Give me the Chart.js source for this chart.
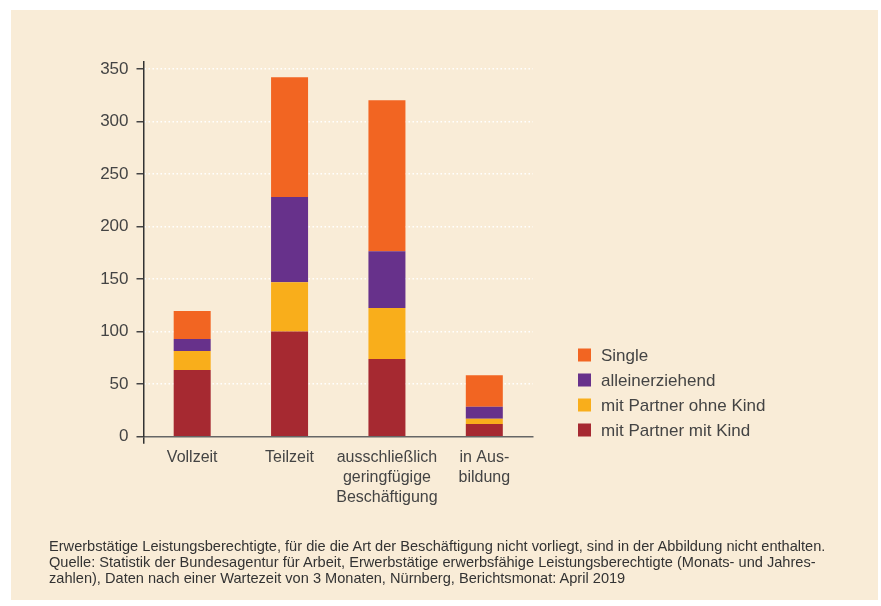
<!DOCTYPE html>
<html lang="de">
<head>
<meta charset="utf-8">
<script src="https://cdn.jsdelivr.net/npm/chart.js@4/dist/chart.umd.min.js"></script>
<style>
  html, body { margin: 0; padding: 0; background: #fff; }
  #panel {
    position: absolute; left: 11px; top: 10px; width: 867px; height: 590px;
    background: #F9ECD7;
  }
  #chart { position: absolute; left: 0; top: 0; }
  #note {
    position: absolute; left: 49px; top: 538px;
    font: 14.6px "Liberation Sans", Arial, sans-serif;
    line-height: 16px; letter-spacing: 0;
    color: #333; white-space: nowrap;
  }
</style>
</head>
<body>
<div id="panel"></div>
<canvas id="chart" width="881" height="606"></canvas>
<div id="note">
  Erwerbstätige Leistungsberechtigte, für die die Art der Beschäftigung nicht vorliegt, sind in der Abbildung nicht enthalten.<br>
  Quelle: Statistik der Bundesagentur für Arbeit, Erwerbstätige erwerbsfähige Leistungsberechtigte (Monats- und Jahres-<br>
  zahlen), Daten nach einer Wartezeit von 3 Monaten, Nürnberg, Berichtsmonat: April 2019
</div>
<script>
// categories (multi-line labels)
const categories = [
  ["Vollzeit"],
  ["Teilzeit"],
  ["ausschließlich", "geringfügige", "Beschäftigung"],
  ["in Aus-", "bildung"]
];

// values in thousands, stacked bottom to top
const mitPartnerMitKind = [63.5, 100, 74, 12];
const mitPartnerOhneKind = [18, 47, 48.5, 5];
const alleinerziehend = [11.5, 81, 54, 11.5];
const single = [26.5, 114, 143.5, 30];

const yTicks = [0, 50, 100, 150, 200, 250, 300, 350];

const colors = {
  single: "#F26522",
  allein: "#67318B",
  ohneKind: "#F9AE1B",
  mitKind: "#A62931"
};

const font = '"Liberation Sans", Arial, sans-serif';

// legend drawn beside the plot, top item = top of the stack
const sideLegend = {
  id: "sideLegend",
  afterDraw(chart) {
    const ctx = chart.ctx;
    const items = chart.data.datasets.slice().reverse();
    ctx.save();
    ctx.font = "17px " + font;
    ctx.textBaseline = "middle";
    items.forEach((ds, i) => {
      const y = 355 + i * 25;
      ctx.fillStyle = ds.backgroundColor;
      ctx.fillRect(578, y - 6.5, 13, 13);
      ctx.fillStyle = "#444";
      ctx.fillText(ds.label, 601, y + 1);
    });
    ctx.restore();
  }
};

new Chart(document.getElementById("chart"), {
  type: "bar",
  data: {
    labels: categories,
    datasets: [
      { label: "mit Partner mit Kind", data: mitPartnerMitKind, backgroundColor: colors.mitKind },
      { label: "mit Partner ohne Kind", data: mitPartnerOhneKind, backgroundColor: colors.ohneKind },
      { label: "alleinerziehend", data: alleinerziehend, backgroundColor: colors.allein },
      { label: "Single", data: single, backgroundColor: colors.single }
    ]
  },
  options: {
    responsive: false,
    animation: false,
    categoryPercentage: 1,
    barPercentage: 0.38,
    layout: { padding: { left: 83.5, right: 348, top: 62, bottom: 69.3 } },
    plugins: {
      legend: { display: false },
      tooltip: { enabled: false }
    },
    scales: {
      x: {
        stacked: true,
        afterFit: (axis) => { axis.height = 100; },
        border: { color: "#666", width: 1.5 },
        grid: {
          display: true,
          drawOnChartArea: false,
          drawTicks: true,
          tickLength: 7,
          lineWidth: 1.5,
          tickColor: (c) => c.index === 0 ? "#333" : "rgba(0,0,0,0)"
        },
        ticks: {
          color: "#444",
          padding: 4,
          maxRotation: 0,
          autoSkip: false,
          font: { family: font, size: 16, lineHeight: 1.25 }
        }
      },
      y: {
        stacked: true,
        min: 0,
        max: 356.5,
        afterFit: (axis) => { axis.width = 60; },
        afterBuildTicks: (axis) => { axis.ticks = yTicks.map(v => ({ value: v })); },
        border: { color: "#333", width: 1.5, dash: [1.5, 2.5] },
        grid: {
          color: (c) => c.tick && c.tick.value === 0 ? "rgba(0,0,0,0)" : "#fff",
          lineWidth: 1.5,
          tickLength: 7,
          tickColor: "#444",
          tickWidth: 1.5
        },
        ticks: {
          color: "#444",
          padding: 8,
          font: { family: font, size: 17 }
        }
      }
    }
  },
  plugins: [sideLegend]
});
</script>
</body>
</html>
